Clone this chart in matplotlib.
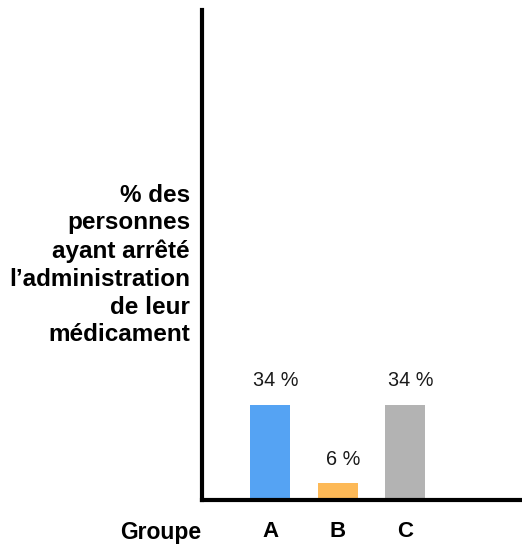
import matplotlib
matplotlib.use("Agg")
import matplotlib.pyplot as plt

categories = ["A", "B", "C"]
values = [34, 6, 34]
labels = ["34 %", "6 %", "34 %"]
colors = ["#55a3f3", "#fdb957", "#b3b3b3"]
ylabel = "% des\npersonnes\nayant arrêté\nl’administration\nde leur\nmédicament"
xlabel = "Groupe"

plt.rcParams['font.family'] = ['Liberation Sans', 'DejaVu Sans']

W, H = 522, 544
fig = plt.figure(figsize=(W / 100, H / 100), dpi=100)
ax = fig.add_axes([202 / W, (H - 500) / H, 318 / W, 490 / H])

x = list(range(len(categories)))
ax.bar(x, values, width=0.59, color=colors, zorder=2)
for xi, v, lab in zip(x, values, labels):
    ax.annotate(lab, (xi, v), xytext=(4.3, 10.5), textcoords="offset points",
                ha="center", va="bottom", fontsize=14.3, color="#1a1a1a")

ax.set_xlim(-1.007, 3.70)
ax.set_ylim(0, 175.5)
for s in ["top", "right"]:
    ax.spines[s].set_visible(False)
for s in ["left", "bottom"]:
    ax.spines[s].set_linewidth(3)
    ax.spines[s].set_color("black")
ax.set_yticks([])
ax.set_xticks(x)
ax.set_xticklabels(categories, fontsize=16, fontweight="bold")
ax.tick_params(axis="x", length=0, pad=15)

fig.text(190 / W, 1 - 265 / H, ylabel, ha="right", va="center", multialignment="right",
         fontsize=17.5, fontweight="bold", linespacing=1.27)
fig.text(201 / W, 1 - 533 / H, xlabel, ha="right", va="center",
         fontsize=16.5, fontweight="bold")

fig.savefig("out.png", dpi=100)
